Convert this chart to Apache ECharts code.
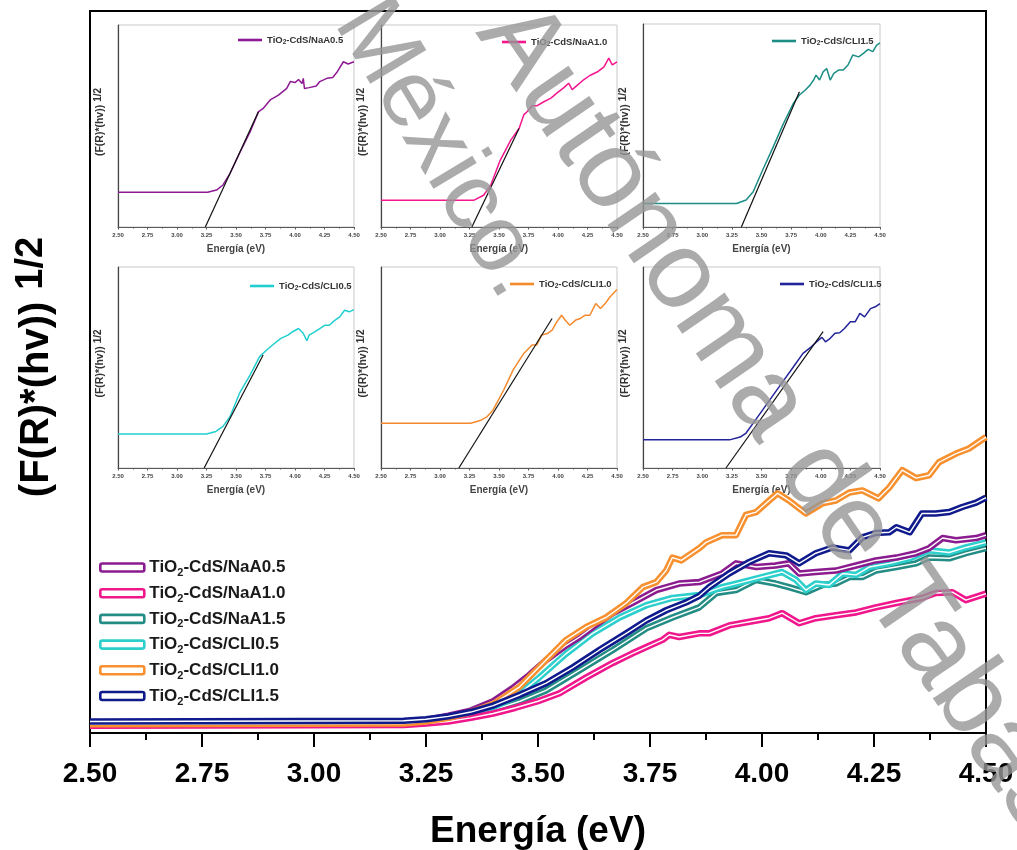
<!DOCTYPE html>
<html>
<head>
<meta charset="utf-8">
<title>Energía de banda prohibida TiO2-CdS</title>
<script src="https://cdn.jsdelivr.net/npm/echarts@6/dist/echarts.min.js"></script>
<style>
  html, body { margin: 0; padding: 0; background: #fff; }
  #chart { width: 1017px; height: 850px; }
</style>
</head>
<body>
<div id="chart"></div>
<script>
// ---- Tick labels of the energy axis ----
const energyTicks = [2.50, 2.75, 3.00, 3.25, 3.50, 3.75, 4.00, 4.25, 4.50];

// ---- Sample names ----
const sampleNames = [
  'TiO2-CdS/NaA0.5', 'TiO2-CdS/NaA1.0', 'TiO2-CdS/NaA1.5',
  'TiO2-CdS/CLI0.5', 'TiO2-CdS/CLI1.0', 'TiO2-CdS/CLI1.5'
];
const sampleColors = ['#8a1c8f', '#f0168c', '#238c84', '#2ccfcb', '#f7902f', '#0f1a8c'];

// ---- Main plot: (F(R)*hv)^1/2 vs energy, [eV, a.u.] ----
const mainNaA05 = [[2.50,1.3],[3.20,1.4],[3.25,1.8],[3.30,2.4],[3.35,3.1],[3.40,4.4],[3.443,6.2],[3.48,8.0],[3.518,10.1],[3.56,12.0],[3.593,13.3],[3.63,15.0],[3.667,16.6],[3.71,18.0],[3.764,19.8],[3.815,20.7],[3.86,20.9],[3.911,22.1],[3.942,23.5],[3.987,23.0],[4.03,23.2],[4.06,23.5],[4.083,22.1],[4.12,22.3],[4.165,22.5],[4.21,23.2],[4.254,23.9],[4.30,24.3],[4.344,24.9],[4.373,25.6],[4.403,27.0],[4.433,26.7],[4.478,27.0],[4.50,27.4]];
const mainNaA10 = [[2.50,1.0],[3.20,1.1],[3.25,1.3],[3.30,1.6],[3.35,2.1],[3.40,2.7],[3.45,3.5],[3.50,4.4],[3.548,5.5],[3.608,7.7],[3.667,9.7],[3.71,11.0],[3.742,11.9],[3.778,12.9],[3.793,13.6],[3.815,13.3],[3.86,13.8],[3.882,13.8],[3.927,14.9],[3.972,15.4],[4.016,15.9],[4.045,16.6],[4.083,15.2],[4.12,15.9],[4.165,16.3],[4.21,16.7],[4.254,17.4],[4.30,18.0],[4.357,18.7],[4.388,19.4],[4.425,19.5],[4.455,18.4],[4.50,19.3]];
const mainNaA15 = [[2.50,1.1],[3.20,1.2],[3.25,1.4],[3.30,1.8],[3.35,2.4],[3.40,3.2],[3.46,4.4],[3.518,5.9],[3.593,8.7],[3.667,11.5],[3.742,14.5],[3.80,16.0],[3.86,17.4],[3.898,19.4],[3.942,19.8],[3.987,21.2],[4.03,20.7],[4.06,20.2],[4.098,19.5],[4.135,20.5],[4.165,20.7],[4.195,21.6],[4.224,21.6],[4.254,22.5],[4.30,23.0],[4.344,23.5],[4.373,24.3],[4.418,24.2],[4.455,24.9],[4.50,25.6]];
const mainCLI05 = [[2.50,1.2],[3.20,1.3],[3.25,1.5],[3.30,1.9],[3.35,2.6],[3.40,3.6],[3.45,5.0],[3.503,7.7],[3.563,11.0],[3.622,13.8],[3.682,16.0],[3.742,17.7],[3.80,18.7],[3.86,19.1],[3.911,20.2],[3.956,20.9],[4.00,21.6],[4.045,22.3],[4.076,21.2],[4.098,19.8],[4.12,20.7],[4.15,20.5],[4.18,22.1],[4.21,21.9],[4.24,23.0],[4.284,23.5],[4.33,24.2],[4.373,25.3],[4.418,25.0],[4.455,25.7],[4.50,26.4]];
const mainCLI10 = [[2.50,1.2],[3.20,1.3],[3.25,1.6],[3.30,2.1],[3.35,2.9],[3.40,4.0],[3.459,6.4],[3.518,10.1],[3.563,12.9],[3.608,14.7],[3.652,16.0],[3.697,18.0],[3.734,20.2],[3.764,20.9],[3.786,22.5],[3.80,24.3],[3.82,23.9],[3.86,25.6],[3.875,26.4],[3.911,27.4],[3.942,27.4],[3.964,30.2],[3.987,30.6],[4.016,32.2],[4.035,33.2],[4.06,32.2],[4.098,30.4],[4.135,31.8],[4.165,32.2],[4.195,33.3],[4.224,33.6],[4.26,32.5],[4.284,34.0],[4.313,36.4],[4.344,35.3],[4.373,35.7],[4.395,37.5],[4.433,38.7],[4.462,39.4],[4.50,41.0]];
const mainCLI15 = [[2.50,1.6],[3.20,1.7],[3.25,1.9],[3.30,2.3],[3.35,2.9],[3.40,3.8],[3.46,5.3],[3.518,6.9],[3.578,9.1],[3.637,11.5],[3.697,13.8],[3.742,15.6],[3.786,17.0],[3.831,18.1],[3.86,19.0],[3.882,20.2],[3.927,22.1],[3.972,23.7],[4.016,24.9],[4.054,24.6],[4.083,23.5],[4.12,24.9],[4.157,25.7],[4.195,25.3],[4.224,27.1],[4.254,27.7],[4.284,27.8],[4.30,28.5],[4.33,27.8],[4.357,30.4],[4.388,30.4],[4.418,30.6],[4.447,31.3],[4.478,31.9],[4.50,32.6]];

// ---- Tauc insets: curve and linear fit, [eV, a.u.] ----
const insetNaA05 = [[2.50,17.2],[3.26,17.2],[3.335,18.3],[3.39,20.8],[3.45,26.6],[3.53,36.5],[3.62,47.2],[3.69,57.0],[3.73,58.7],[3.79,62.9],[3.86,65.3],[3.93,68.6],[3.96,72.0],[4.00,71.5],[4.03,73.0],[4.06,71.0],[4.07,73.6],[4.08,68.6],[4.12,69.0],[4.18,69.8],[4.21,72.0],[4.27,73.6],[4.32,74.0],[4.36,77.0],[4.41,81.8],[4.45,80.7],[4.50,81.8]];
const fitNaA05 = [[3.24,0],[3.69,57]];
const insetNaA10 = [[2.50,13.2],[3.285,13.2],[3.37,15.7],[3.43,20.7],[3.51,33.0],[3.60,43.0],[3.67,48.8],[3.71,55.5],[3.74,57.2],[3.78,60.0],[3.82,60.0],[3.88,62.0],[3.94,63.8],[3.99,66.3],[4.05,69.0],[4.09,71.2],[4.12,68.0],[4.16,70.0],[4.22,73.0],[4.27,75.0],[4.34,77.0],[4.39,79.3],[4.43,83.6],[4.46,80.3],[4.50,81.8]];
const fitNaA10 = [[3.27,0],[3.67,48.8]];
const insetNaA15 = [[2.50,11.6],[3.29,11.6],[3.37,13.3],[3.43,17.4],[3.51,28.1],[3.60,39.6],[3.68,50.3],[3.77,61.0],[3.82,65.0],[3.87,67.5],[3.91,69.9],[3.94,72.4],[3.96,74.8],[3.99,72.4],[4.02,76.4],[4.05,78.1],[4.08,72.4],[4.11,75.7],[4.15,77.3],[4.19,77.3],[4.23,79.8],[4.27,84.7],[4.32,83.8],[4.36,85.5],[4.40,87.5],[4.44,86.4],[4.47,89.5],[4.50,90.7]];
const fitNaA15 = [[3.33,0],[3.82,66.6]];
const insetCLI05 = [[2.50,16.9],[3.25,16.9],[3.33,18.2],[3.39,20.7],[3.45,25.6],[3.53,37.2],[3.62,46.3],[3.70,55.4],[3.76,58.7],[3.81,61.2],[3.88,64.5],[3.94,66.1],[3.98,67.8],[4.03,69.4],[4.07,67.0],[4.10,63.3],[4.12,66.1],[4.17,67.8],[4.21,69.4],[4.25,71.0],[4.29,71.0],[4.34,73.6],[4.38,75.2],[4.42,78.5],[4.46,77.7],[4.50,78.8]];
const fitCLI05 = [[3.23,0],[3.73,56.2]];
const insetCLI10 = [[2.50,22.3],[3.26,22.3],[3.34,23.6],[3.40,25.6],[3.45,28.9],[3.54,38.8],[3.62,48.8],[3.71,57.0],[3.78,61.2],[3.82,61.2],[3.86,66.1],[3.91,66.9],[3.95,68.6],[3.99,72.7],[4.03,76.0],[4.06,73.6],[4.10,71.0],[4.15,73.6],[4.19,74.4],[4.23,76.0],[4.27,76.0],[4.32,81.8],[4.36,79.3],[4.40,81.8],[4.44,85.1],[4.50,88.8]];
const fitCLI10 = [[3.16,0],[3.95,74.4]];
const insetCLI15 = [[2.50,14.0],[3.23,14.0],[3.32,15.4],[3.37,17.4],[3.43,22.3],[3.51,28.9],[3.60,36.4],[3.68,43.0],[3.77,50.4],[3.85,57.0],[3.92,60.3],[3.98,63.6],[4.01,65.0],[4.04,62.8],[4.08,64.5],[4.12,67.0],[4.16,67.3],[4.20,69.4],[4.25,72.7],[4.29,72.7],[4.33,76.9],[4.37,75.2],[4.42,79.3],[4.46,80.2],[4.50,81.8]];
const fitCLI15 = [[3.20,0],[4.02,67.8]];

// Inset captions (the top-right one is printed as CLI1.5 on the figure)
const insetCaptions = [
  'TiO2-CdS/NaA0.5', 'TiO2-CdS/NaA1.0', 'TiO2-CdS/CLI1.5',
  'TiO2-CdS/CLI0.5', 'TiO2-CdS/CLI1.0', 'TiO2-CdS/CLI1.5'
];
const insetColors = ['#8e1a94', '#f4168e', '#1c8e86', '#22cfd0', '#f48a2c', '#22249a'];

const mainSeriesData = [mainNaA05, mainNaA10, mainNaA15, mainCLI05, mainCLI10, mainCLI15];
const insetSeriesData = [insetNaA05, insetNaA10, insetNaA15, insetCLI05, insetCLI10, insetCLI15];
const fitSeriesData = [fitNaA05, fitNaA10, fitNaA15, fitCLI05, fitCLI10, fitCLI15];

// ---- Layout ----
const FONT = '"Liberation Sans", Arial, Helvetica, sans-serif';
const insetBoxes = [
  { left: 118, top: 25, width: 236, height: 202 },
  { left: 381, top: 25, width: 236, height: 202 },
  { left: 643, top: 24, width: 237, height: 203 },
  { left: 118, top: 267, width: 236, height: 201 },
  { left: 381, top: 267, width: 236, height: 201 },
  { left: 643, top: 267, width: 237, height: 201 }
];
const insetLegendPos = [
  { left: 233, top: 30 }, { left: 497, top: 32 }, { left: 767, top: 31 },
  { left: 245, top: 276 }, { left: 505, top: 274 }, { left: 775, top: 274 }
];

// "TiO2-..." -> rich text with subscript 2
function subscriptLabel(text) {
  const rest = text.replace(/^TiO2/, '');
  return '{a|TiO}{s|2}{a|' + rest + '}';
}

const grids = [{
  left: 90, top: 11, right: 31, bottom: 117, show: true, borderColor: '#000', borderWidth: 2,
  outerBoundsMode: 'none', containLabel: false
}];
const xAxes = [{
  gridIndex: 0, type: 'value', min: 2.5, max: 4.5, interval: 0.25,
  axisLine: { onZero: false, lineStyle: { color: '#000', width: 2 } },
  axisTick: { length: 14, lineStyle: { color: '#000', width: 2 } },
  minorTick: { show: true, splitNumber: 2, length: 7, lineStyle: { color: '#000', width: 2 } },
  splitLine: { show: false },
  axisLabel: {
    fontSize: 28, fontWeight: 'bold', color: '#000', margin: 27, fontFamily: FONT,
    formatter: v => energyTicks.find(t => Math.abs(t - v) < 1e-6).toFixed(2)
  },
  name: 'Energía (eV)', nameLocation: 'middle', nameGap: 80,
  nameTextStyle: { fontSize: 37, fontWeight: 'bold', color: '#000', fontFamily: FONT }
}];
const yAxes = [{
  gridIndex: 0, type: 'value', min: 0, max: 100,
  axisLine: { show: true, onZero: false, lineStyle: { color: '#000', width: 2 } },
  axisTick: { show: false }, axisLabel: { show: false }, splitLine: { show: false },
  name: '{m|(F(R)*(hv))}{s|1/2}', nameLocation: 'middle', nameGap: 29,
  nameTextStyle: {
    fontFamily: FONT,
    rich: {
      m: { fontSize: 40, fontWeight: 'bold', color: '#000', lineHeight: 48, fontFamily: FONT, padding: [0, 0, 0, 10] },
      s: { fontSize: 38, fontWeight: 'bold', color: '#000', lineHeight: 36, verticalAlign: 'top', fontFamily: FONT, padding: [0, 0, 0, 12] }
    }
  }
}];

insetBoxes.forEach((b, i) => {
  grids.push(Object.assign({
    show: true, borderColor: '#c9c9c9', borderWidth: 1, backgroundColor: '#fff',
    outerBoundsMode: 'none', containLabel: false
  }, b));
  xAxes.push({
    gridIndex: i + 1, type: 'value', min: 2.5, max: 4.5, interval: 0.25,
    axisLine: { onZero: false, lineStyle: { color: '#5a5a5a', width: 1 } },
    axisTick: { length: 2.5, lineStyle: { color: '#5a5a5a', width: 1 } },
    minorTick: { show: true, splitNumber: 2, length: 1.5, lineStyle: { color: '#5a5a5a' } },
    splitLine: { show: false },
    axisLabel: { fontSize: 6, fontWeight: 'bold', color: '#444', margin: 5, fontFamily: FONT,
      formatter: v => v.toFixed(2) },
    name: 'Energía (eV)', nameLocation: 'middle', nameGap: 17,
    nameTextStyle: { fontSize: 10, fontWeight: 'bold', color: '#444', fontFamily: FONT }
  });
  yAxes.push({
    gridIndex: i + 1, type: 'value', min: 0, max: 100,
    axisLine: { show: true, onZero: false, lineStyle: { color: '#444', width: 1.2 } },
    axisTick: { show: false }, axisLabel: { show: false }, splitLine: { show: false },
    name: '{m|(F(R)*(hv))}{s|1/2}', nameLocation: 'middle', nameGap: 10,
    nameTextStyle: {
      rich: {
        m: { fontSize: 10.5, fontWeight: 'bold', color: '#333', lineHeight: 15, fontFamily: FONT, padding: [0, 0, 0, 8] },
        s: { fontSize: 10, fontWeight: 'bold', color: '#333', lineHeight: 8, verticalAlign: 'top', fontFamily: FONT, padding: [0, 0, 0, 3] }
      }
    }
  });
});

const series = [];
// Main curves: a thick coloured stroke with a thin white core
const mainOrder = [2, 3, 1, 0, 4, 5];
mainOrder.forEach(k => {
  series.push({
    name: sampleNames[k], type: 'line', xAxisIndex: 0, yAxisIndex: 0,
    data: mainSeriesData[k], showSymbol: false, symbol: 'none', smooth: false,
    color: sampleColors[k],
    lineStyle: { color: sampleColors[k], width: 6.5, join: 'round' }, z: 3
  });
  series.push({
    name: sampleNames[k] + ' core', type: 'line', xAxisIndex: 0, yAxisIndex: 0,
    data: mainSeriesData[k], showSymbol: false, symbol: 'none', smooth: false,
    lineStyle: { color: '#ffffff', width: 1.4, join: 'round' }, z: 3
  });
});
// Inset curves with their linear fits
insetSeriesData.forEach((d, i) => {
  series.push({
    name: 'inset-' + i, type: 'line', xAxisIndex: i + 1, yAxisIndex: i + 1,
    data: d, showSymbol: false, symbol: 'none', color: insetColors[i],
    lineStyle: { color: insetColors[i], width: 1.5 }, z: 4
  });
  series.push({
    name: 'fit-' + i, type: 'line', xAxisIndex: i + 1, yAxisIndex: i + 1,
    data: fitSeriesData[i], showSymbol: false, symbol: 'none',
    lineStyle: { color: '#111', width: 1.2 }, z: 5
  });
});

const legends = [{
  orient: 'vertical', left: 94, top: 554, itemWidth: 44, itemHeight: 8, itemGap: 6.2,
  icon: 'roundRect',
  data: sampleNames.map((n, k) => ({
    name: n, itemStyle: { color: '#ffffff', borderColor: sampleColors[k], borderWidth: 2.6 }
  })),
  formatter: subscriptLabel,
  textStyle: {
    fontFamily: FONT,
    rich: {
      a: { fontSize: 17, fontWeight: 'bold', color: '#1a1a1a', lineHeight: 22, fontFamily: FONT },
      s: { fontSize: 11, fontWeight: 'bold', color: '#1a1a1a', lineHeight: 12, verticalAlign: 'bottom', fontFamily: FONT }
    }
  }
}];
insetLegendPos.forEach((p, i) => {
  legends.push({
    left: p.left, top: p.top, itemWidth: 24, itemHeight: 2.6,
    data: [{ name: 'inset-' + i, icon: 'rect' }],
    formatter: () => subscriptLabel(insetCaptions[i]),
    textStyle: {
      fontFamily: FONT,
      rich: {
        a: { fontSize: 9.5, fontWeight: 'bold', color: '#333', lineHeight: 12, fontFamily: FONT },
        s: { fontSize: 6.5, fontWeight: 'bold', color: '#333', lineHeight: 7, verticalAlign: 'bottom', fontFamily: FONT }
      }
    }
  });
});

const chart = echarts.init(document.getElementById('chart'), null, { renderer: 'canvas' });
chart.setOption({
  animation: false,
  backgroundColor: '#ffffff',
  textStyle: { fontFamily: FONT },
  grid: grids,
  xAxis: xAxes,
  yAxis: yAxes,
  legend: legends,
  series: series,
  graphic: [
    {
      type: 'text', x: 356, y: 9, rotation: -59 * Math.PI / 180, z: 100, silent: true,
      style: { text: 'México.', fontSize: 95, fontFamily: FONT, fill: 'rgba(150,150,150,0.8)',
        align: 'left', verticalAlign: 'middle', textAlign: 'left', textVerticalAlign: 'middle' }
    },
    {
      type: 'text', x: 500, y: 15, rotation: -55.5 * Math.PI / 180, z: 100, silent: true,
      style: { text: 'Autónoma de Tabasco', fontSize: 110, fontFamily: FONT, fill: 'rgba(150,150,150,0.8)',
        align: 'left', verticalAlign: 'middle', textAlign: 'left', textVerticalAlign: 'middle' }
    }
  ]
});
</script>
</body>
</html>
